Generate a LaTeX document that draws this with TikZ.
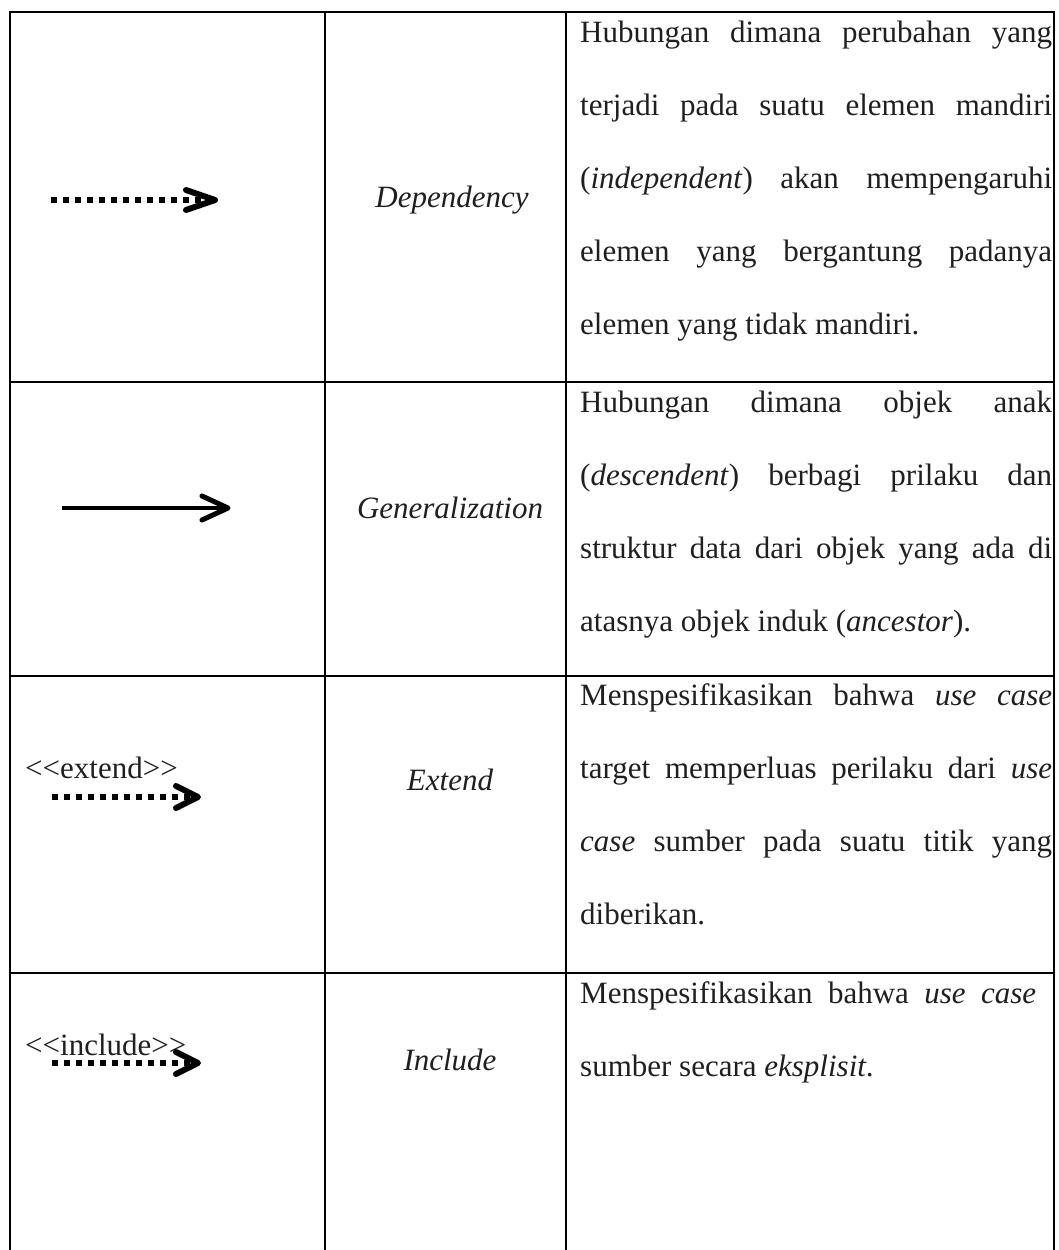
\documentclass[tikz,border=0pt]{standalone}
\usepackage{fontspec}
\setmainfont{Liberation Serif}
\newcommand{\jline}[1]{\makebox[472pt][s]{#1}}
\begin{document}
\begin{tikzpicture}[x=1pt,y=-1pt,
  gridline/.style={line width=2.6pt, line cap=rect},
  txt/.style={anchor=base west, inner sep=0pt, font=\fontsize{31}{36}\selectfont, text=black!88},
  lbl/.style={anchor=base, inner sep=0pt, font=\fontsize{31}{36}\selectfont\itshape, text=black!88},
  stereo/.style={anchor=base west, inner sep=0pt, font=\fontsize{31}{36}\selectfont, text=black!88},
  dotline/.style={line width=6pt, dash pattern=on 6pt off 6pt},
  solidline/.style={line width=4.5pt},
  chev/.style={line width=6pt, line cap=round, line join=round}]
\useasboundingbox (0,0) rectangle (1059,1250);

% grid
\foreach \yy in {12,382,676,973}{\draw[gridline] (10,\yy) -- (1054,\yy);}
\foreach \xx in {10,325,566,1054}{\draw[gridline] (\xx,12) -- (\xx,1252);}

% row 1: dependency
\coordinate (d1s) at (51,200);
\coordinate (d1e) at (205,200);
\draw[dotline] (d1s) -- (d1e);
\draw[chev] ([shift={(-19,-10)}]d1e) -- ([shift={(10,0)}]d1e) -- ([shift={(-19,10)}]d1e);
\node[lbl] (l1) at (452,207) {Dependency};
\node[txt] (t11) at (580,42) {\jline{Hubungan dimana perubahan yang}};
\node[txt] (t12) at (580,115) {\jline{terjadi pada suatu elemen mandiri}};
\node[txt] (t13) at (580,188) {\jline{(\textit{independent}) akan mempengaruhi}};
\node[txt] (t14) at (580,261) {\jline{elemen yang bergantung padanya}};
\node[txt] (t15) at (580,334) {elemen yang tidak mandiri.};

% row 2: generalization
\coordinate (g1s) at (62,508);
\coordinate (g1e) at (224,508);
\draw[solidline] (g1s) -- (g1e);
\draw[chev, line width=5pt] ([shift={(-22,-12)}]g1e) -- ([shift={(4,0)}]g1e) -- ([shift={(-22,12)}]g1e);
\node[lbl] (l2) at (450,518) {Generalization};
\node[txt] (t21) at (580,412) {\jline{Hubungan dimana objek anak}};
\node[txt] (t22) at (580,485) {\jline{(\textit{descendent}) berbagi prilaku dan}};
\node[txt] (t23) at (580,558) {\jline{struktur data dari objek yang ada di}};
\node[txt] (t24) at (580,631) {atasnya objek induk (\textit{ancestor}).};

% row 3: extend
\node[stereo] (s3) at (25,778) {<{}<extend>{}>};
\coordinate (e1s) at (52,797);
\coordinate (e1e) at (190,797);
\draw[dotline] (e1s) -- (e1e);
\draw[chev] ([shift={(-14,-11)}]e1e) -- ([shift={(8,0)}]e1e) -- ([shift={(-14,11)}]e1e);
\node[lbl] (l3) at (450,790) {Extend};
\node[txt] (t31) at (580,705) {\jline{Menspesifikasikan bahwa \textit{use case}}};
\node[txt] (t32) at (580,778) {\jline{target memperluas perilaku dari \textit{use}}};
\node[txt] (t33) at (580,851) {\jline{\textit{case} sumber pada suatu titik yang}};
\node[txt] (t34) at (580,924) {diberikan.};

% row 4: include
\node[stereo] (s4) at (25,1055) {<{}<include>{}>};
\coordinate (i1s) at (52,1063);
\coordinate (i1e) at (190,1063);
\draw[dotline] (i1s) -- (i1e);
\draw[chev] ([shift={(-14,-11)}]i1e) -- ([shift={(8,0)}]i1e) -- ([shift={(-14,11)}]i1e);
\node[lbl] (l4) at (450,1070) {Include};
\node[txt] (t41) at (580,1003) {\makebox[456pt][s]{Menspesifikasikan bahwa \textit{use case}}};
\node[txt] (t42) at (580,1076) {sumber secara \textit{eksplisit}.};
\end{tikzpicture}
\end{document}
